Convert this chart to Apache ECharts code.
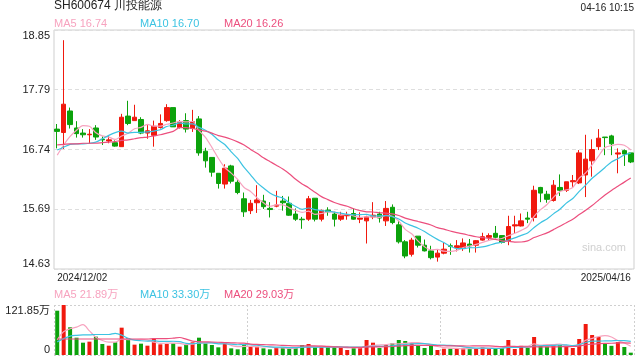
<!DOCTYPE html>
<html><head><meta charset="utf-8">
<script src="https://cdn.jsdelivr.net/npm/echarts@6/dist/echarts.min.js"></script>
<style>html,body{margin:0;padding:0;background:#fff}#c{width:640px;height:360px}</style>
</head><body><div id="c"></div>
<script>
const dates = ['2024/12/02','2024/12/03','2024/12/04','2024/12/05','2024/12/06','2024/12/09','2024/12/10','2024/12/11','2024/12/12','2024/12/13','2024/12/16','2024/12/17','2024/12/18','2024/12/19','2024/12/20','2024/12/23','2024/12/24','2024/12/25','2024/12/26','2024/12/27','2024/12/30','2024/12/31',
'2025/01/02','2025/01/03','2025/01/06','2025/01/07','2025/01/08','2025/01/09','2025/01/10','2025/01/13','2025/01/14','2025/01/15','2025/01/16','2025/01/17','2025/01/20','2025/01/21','2025/01/22','2025/01/23','2025/01/24','2025/01/27',
'2025/02/05','2025/02/06','2025/02/07','2025/02/10','2025/02/11','2025/02/12','2025/02/13','2025/02/14','2025/02/17','2025/02/18','2025/02/19','2025/02/20','2025/02/21','2025/02/24','2025/02/25','2025/02/26','2025/02/27','2025/02/28',
'2025/03/03','2025/03/04','2025/03/05','2025/03/06','2025/03/07','2025/03/10','2025/03/11','2025/03/12','2025/03/13','2025/03/14','2025/03/17','2025/03/18','2025/03/19','2025/03/20','2025/03/21','2025/03/24','2025/03/25','2025/03/26','2025/03/27','2025/03/28','2025/03/31',
'2025/04/01','2025/04/02','2025/04/03','2025/04/07','2025/04/08','2025/04/09','2025/04/10','2025/04/11','2025/04/14','2025/04/15','2025/04/16'];

const opens = [17.10,17.04,17.42,17.12,17.03,17.00,17.12,16.92,16.89,16.86,
16.79,17.33,17.25,17.27,17.03,16.99,17.13,17.25,17.48,17.13,
17.25,17.11,17.28,16.71,16.60,16.32,16.13,16.45,16.16,15.87,
15.66,15.80,15.83,15.70,15.74,15.83,15.79,15.60,15.51,15.51,
15.88,15.51,15.67,15.60,15.51,15.57,15.61,15.51,15.48,15.55,
15.60,15.48,15.72,15.41,15.11,14.89,15.21,15.05,14.95,14.84,
14.91,15.04,15.01,15.01,15.07,15.05,15.14,15.19,15.26,15.22,
15.13,15.39,15.39,15.53,15.54,16.07,15.95,15.84,16.07,16.02,
16.17,16.15,16.29,16.54,16.79,16.96,16.98,16.66,16.72,16.68];
const highs = [17.19,18.67,17.48,17.24,17.10,17.10,17.17,16.97,16.98,16.90,
17.37,17.60,17.53,17.31,17.17,17.25,17.36,17.54,17.48,17.26,
17.38,17.44,17.33,16.77,16.60,16.32,16.48,16.47,16.20,15.98,
15.85,16.11,15.94,15.81,16.01,15.92,15.91,15.70,15.55,15.92,
15.88,15.68,15.72,15.64,15.64,15.64,15.70,15.63,15.57,15.81,
15.64,15.83,15.77,15.48,15.14,15.18,15.21,15.15,15.04,14.97,
15.09,15.08,15.14,15.17,15.16,15.14,15.27,15.26,15.39,15.22,
15.57,15.57,15.61,15.64,16.10,16.08,16.01,16.20,16.30,16.17,
16.29,16.73,17.00,16.92,17.10,16.96,17.00,16.76,16.74,16.68];
const lows = [16.76,16.75,17.11,16.95,16.95,16.84,16.91,16.82,16.85,16.79,
16.79,17.17,17.25,17.01,16.93,16.79,17.11,17.23,17.14,17.11,
17.04,17.05,16.63,16.42,16.26,16.05,16.05,16.14,15.95,15.55,
15.60,15.62,15.69,15.54,15.72,15.66,15.57,15.48,15.34,15.48,
15.47,15.47,15.57,15.38,15.48,15.50,15.50,15.44,15.08,15.51,
15.45,15.39,15.42,15.08,14.82,14.85,15.01,14.94,14.80,14.76,
14.89,14.88,14.94,14.95,14.92,14.92,15.13,15.14,15.17,15.08,
15.05,15.25,15.38,15.44,15.47,15.81,15.80,15.82,15.92,15.99,
16.08,16.13,15.90,16.26,16.73,16.64,16.64,16.32,16.45,16.50];
const closes = [17.06,17.54,17.18,17.02,17.00,17.01,16.96,16.91,16.91,16.80,
17.31,17.20,17.31,17.03,17.07,17.15,17.20,17.48,17.14,17.22,
17.10,17.23,16.68,16.54,16.34,16.14,16.41,16.18,15.98,15.64,
15.79,15.85,15.73,15.68,15.76,15.80,15.58,15.51,15.50,15.87,
15.51,15.66,15.64,15.51,15.58,15.59,15.51,15.53,15.55,15.58,
15.53,15.70,15.45,15.11,14.86,15.14,15.05,14.95,14.83,14.91,
14.98,15.03,15.04,15.09,15.04,15.13,15.20,15.22,15.19,15.10,
15.38,15.41,15.48,15.51,16.02,15.97,15.86,16.11,16.02,16.17,
16.19,16.68,16.57,16.74,16.94,16.95,16.84,16.68,16.66,16.52];
// volume in 万
const volumes = [108,121.85,67.5,42.2,30,32.5,44.7,26.8,22.7,30.9,
66.6,40.6,25.2,27.6,22.7,40.6,26,26.8,28.4,20.3,
26,30.9,42.2,28.4,24.4,18.7,28.4,16.2,13.8,26.8,
20.3,20.3,16.2,13.8,17.9,18.7,14.6,18.7,24.4,26.8,
18.7,18.7,18.7,18.7,18.7,12.2,18.7,18.7,36.6,30,
17.1,24.4,28.4,36.6,34.1,28.4,22.7,17.1,22.7,12.2,
15.4,15.4,15.4,16.2,16.2,16.2,18.7,16.2,17.1,17.1,
36.6,14.6,22.4,17.1,43.9,22,20.3,23.6,24.4,22.7,
17.1,39,75.5,48.7,43.9,28.4,22.4,31.7,19.5,5.7];

// moving-average values before enough in-window data exist
const ma5Head = [16.64,16.82,16.97,17.08];
const ma10Head = [16.73,16.78,16.83,16.84,16.84,16.85,16.87,16.93,16.99];
const ma20Head = [16.82,16.83,16.84,16.84,16.85,16.85,16.85,16.86,16.87,16.88,16.90,16.91,16.93,16.95,16.96,16.98,17.00,17.03,17.06];
const vma5Head = [37,57,64,68];
const vma10Head = [32,40,46,48,49,49,50,50,50];
const vma20Head = [39,39,39,39,39,39,39,39,39,39,39,39,39,39,39,40,40,40,41];

const priceTicks = ['14.63','15.69','16.74','17.79','18.85'];
const volTicks = ['0','121.85万'];
const maLegend = ['MA5 16.74','MA10 16.70','MA20 16.26'];
const volLegend = ['MA5 21.89万','MA10 33.30万','MA20 29.03万'];
const titleText = 'SH600674 川投能源';
const timeText = '04-16 10:15';

const RED = '#f0190e', GREEN = '#0ca20c';
const C5 = '#f7a3bf', C10 = '#3cc3e2', C20 = '#ec4f7e';
const FONT = "'Liberation Sans', Arial, 'Noto Sans CJK SC', sans-serif";

function ma(arr, n, head) {
  return arr.map((_, i) => {
    if (i < n - 1) return head[i];
    let s = 0; for (let k = i - n + 1; k <= i; k++) s += arr[k];
    return +(s / n).toFixed(3);
  });
}

const kData = dates.map((_, i) => [opens[i], closes[i], lows[i], highs[i]]);
const volData = volumes.map((v, i) => ({ value: v, itemStyle: { color: closes[i] >= opens[i] ? RED : GREEN } }));

const pMin = 14.63, pMax = 18.85, pInt = (pMax - pMin) / 4;

const chart = echarts.init(document.getElementById('c'), null, { renderer: 'canvas' });
const lineS = (name, data, color, xi, yi) => ({
  name, type: 'line', data, xAxisIndex: xi, yAxisIndex: yi, showSymbol: false, smooth: 0.3,
  lineStyle: { color, width: 1.2 }, itemStyle: { color }, silent: true, z: 3
});

chart.setOption({
  animation: false,
  textStyle: { fontFamily: FONT },
  grid: [
    { left: 54, right: 6, top: 30, height: 239, show: true, borderColor: '#cfcfcf', borderWidth: 1 },
    { left: 54, right: 6, top: 305, height: 50 }
  ],
  xAxis: [
    { type: 'category', gridIndex: 0, data: dates, boundaryGap: true,
      axisLine: { show: false }, axisTick: { show: false }, splitLine: { show: false },
      axisLabel: { interval: (idx) => idx === 0 || idx === dates.length - 1,
        formatter: (v) => v, color: '#222', fontSize: 10, margin: 4,
        alignMinLabel: 'left', alignMaxLabel: 'right', fontFamily: FONT } },
    { type: 'category', gridIndex: 1, data: dates, boundaryGap: true,
      axisLine: { show: false }, axisTick: { show: false }, axisLabel: { show: false }, splitLine: { show: false } },
    { type: 'value', gridIndex: 1, min: 0, max: 3, interval: 1, position: 'bottom',
      axisLine: { show: false }, axisTick: { show: false }, axisLabel: { show: false },
      splitLine: { show: true, lineStyle: { color: '#cfcfcf', type: [2, 2], width: 1 } } }
  ],
  yAxis: [
    { type: 'value', gridIndex: 0, min: pMin, max: pMax, interval: pInt, scale: true,
      axisLine: { show: false }, axisTick: { show: false },
      axisLabel: { color: '#222', fontSize: 11, margin: 4, fontFamily: FONT,
        verticalAlignMinLabel: 'bottom', verticalAlignMaxLabel: 'top',
        formatter: (v) => priceTicks[Math.round((v - pMin) / pInt)] },
      splitLine: { show: true, lineStyle: { color: '#dedede', type: [4, 3], width: 1.2 } } },
    { type: 'value', gridIndex: 1, min: 0, max: 121.85, interval: 121.85,
      axisLine: { show: false }, axisTick: { show: false },
      axisLabel: { color: '#222', fontSize: 11, margin: 4, fontFamily: FONT,
        verticalAlignMinLabel: 'bottom', verticalAlignMaxLabel: 'top',
        formatter: (v) => v < 1 ? volTicks[0] : volTicks[1] },
      splitLine: { show: true, lineStyle: { color: '#cfcfcf', type: [2, 2], width: 1 } } }
  ],
  series: [
    { type: 'candlestick', data: kData, xAxisIndex: 0, yAxisIndex: 0, barWidth: 5, silent: true,
      itemStyle: { color: RED, color0: GREEN, borderColor: RED, borderColor0: GREEN, borderWidth: 1 } },
    lineS('MA5', ma(closes, 5, ma5Head), C5, 0, 0),
    lineS('MA10', ma(closes, 10, ma10Head), C10, 0, 0),
    lineS('MA20', ma(closes, 20, ma20Head), C20, 0, 0),
    { type: 'bar', data: volData, xAxisIndex: 1, yAxisIndex: 1, barWidth: 4, silent: true },
    lineS('VMA5', ma(volumes, 5, vma5Head), C5, 1, 1),
    lineS('VMA10', ma(volumes, 10, vma10Head), C10, 1, 1),
    lineS('VMA20', ma(volumes, 20, vma20Head), C20, 1, 1)
  ],
  graphic: [
    { type: 'text', left: 54, top: 0, style: { text: titleText, fontSize: 12, fill: '#222', font: '12px ' + FONT } },
    { type: 'text', right: 6, top: 3, style: { text: timeText, fill: '#222', font: '10px ' + FONT } },
    { type: 'text', left: 54, top: 18, style: { text: maLegend[0], fill: C5, font: '11px ' + FONT } },
    { type: 'text', left: 140, top: 18, style: { text: maLegend[1], fill: C10, font: '11px ' + FONT } },
    { type: 'text', left: 224, top: 18, style: { text: maLegend[2], fill: C20, font: '11px ' + FONT } },
    { type: 'text', left: 54, top: 289, style: { text: volLegend[0], fill: C5, font: '11px ' + FONT } },
    { type: 'text', left: 140, top: 289, style: { text: volLegend[1], fill: C10, font: '11px ' + FONT } },
    { type: 'text', left: 224, top: 289, style: { text: volLegend[2], fill: C20, font: '11px ' + FONT } },
    { type: 'text', left: 582, top: 242, style: { text: 'sina.com', fill: '#d0d0d0', font: '11px ' + FONT } }
  ]
});
</script></body></html>
